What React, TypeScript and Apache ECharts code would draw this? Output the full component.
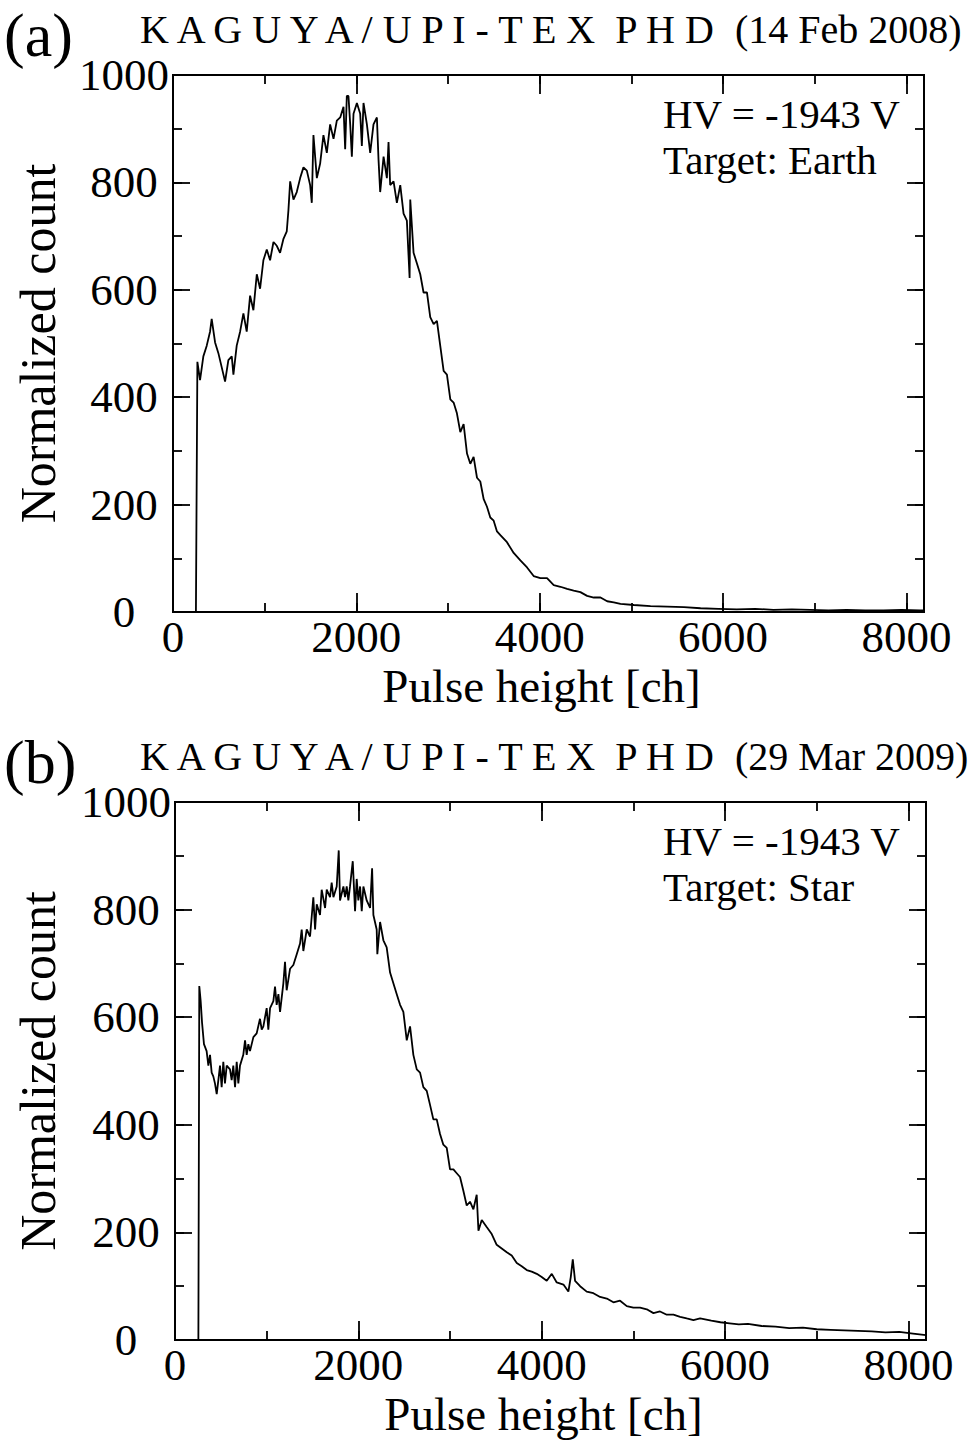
import React, { useEffect, useRef } from 'react';
import * as echarts from 'echarts';

// Panel (a): 14 Feb 2008, Target: Earth
const A_CH = [250, 266, 295, 331, 368, 404, 422, 459, 495, 531, 568, 604, 641, 659, 695, 732, 768, 804, 841, 877, 914, 950, 986, 1023, 1059, 1096, 1132, 1168, 1205, 1241, 1259, 1278, 1314, 1350, 1387, 1423, 1460, 1496, 1514, 1532, 1569, 1605, 1641, 1678, 1714, 1751, 1787, 1824, 1860, 1878, 1896, 1914, 1933, 1951, 1969, 2006, 2042, 2060, 2078, 2115, 2151, 2187, 2224, 2242, 2260, 2297, 2333, 2351, 2369, 2406, 2442, 2479, 2515, 2551, 2581, 2588, 2624, 2661, 2697, 2733, 2770, 2806, 2843, 2879, 2915, 2952, 2988, 3025, 3061, 3097, 3134, 3170, 3207, 3243, 3279, 3316, 3352, 3389, 3425, 3461, 3498, 3534, 3571, 3643, 3716, 3789, 3862, 3934, 4007, 4080, 4153, 4226, 4299, 4371, 4444, 4517, 4590, 4663, 4736, 4808, 4881, 5027, 5209, 5391, 5573, 5755, 5950, 6150, 6350, 6550, 6750, 6950, 7150, 7350, 7550, 7750, 7950, 8150, 8192];
const A_VAL = [0, 466, 432, 476, 496, 522, 546, 502, 482, 456, 429, 469, 476, 442, 496, 522, 556, 522, 589, 562, 629, 602, 655, 675, 655, 689, 682, 669, 695, 709, 748, 802, 768, 782, 808, 828, 822, 795, 762, 888, 808, 835, 888, 855, 908, 881, 915, 921, 941, 862, 961, 961, 908, 848, 928, 948, 928, 868, 948, 908, 855, 908, 921, 842, 782, 848, 808, 875, 795, 802, 762, 795, 742, 729, 622, 768, 669, 649, 629, 595, 595, 549, 536, 542, 496, 449, 442, 396, 390, 370, 335, 350, 295, 276, 289, 250, 243, 210, 196, 176, 170, 150, 143, 130, 110, 96, 83, 67, 63, 63, 50, 47, 43, 40, 37, 30, 27, 27, 20, 18, 15, 13, 11, 10, 9, 7, 6, 5, 6, 4, 5, 4, 3, 4, 3, 3, 4, 3, 3];

// Panel (b): 29 Mar 2009, Target: Star
const B_CH = [255, 265, 280, 295, 316, 345, 364, 382, 400, 418, 436, 455, 473, 491, 509, 527, 545, 564, 600, 618, 636, 655, 673, 691, 709, 745, 764, 782, 800, 818, 855, 891, 927, 946, 964, 1000, 1018, 1037, 1073, 1091, 1109, 1128, 1146, 1182, 1200, 1218, 1255, 1291, 1328, 1364, 1382, 1400, 1437, 1473, 1509, 1528, 1546, 1582, 1600, 1637, 1655, 1691, 1709, 1728, 1764, 1786, 1800, 1837, 1855, 1873, 1891, 1909, 1939, 1964, 1982, 2000, 2019, 2037, 2055, 2091, 2128, 2150, 2164, 2200, 2207, 2237, 2273, 2309, 2346, 2382, 2418, 2455, 2491, 2528, 2564, 2600, 2637, 2673, 2709, 2746, 2782, 2818, 2855, 2891, 2927, 2964, 3000, 3037, 3073, 3109, 3146, 3182, 3218, 3255, 3291, 3310, 3346, 3400, 3455, 3509, 3564, 3619, 3673, 3728, 3782, 3837, 3891, 3946, 4000, 4055, 4110, 4164, 4237, 4291, 4317, 4339, 4364, 4419, 4491, 4564, 4637, 4710, 4782, 4855, 4928, 5000, 5073, 5146, 5219, 5291, 5364, 5437, 5510, 5582, 5655, 5728, 5850, 5950, 6050, 6150, 6250, 6400, 6550, 6700, 6850, 7000, 7150, 7300, 7450, 7600, 7750, 7900, 8050, 8192];
const B_VAL = [0, 658, 630, 590, 550, 537, 510, 530, 497, 490, 477, 457, 483, 510, 470, 517, 477, 510, 503, 483, 510, 470, 517, 477, 510, 530, 557, 530, 550, 537, 563, 570, 597, 577, 583, 617, 577, 617, 630, 657, 623, 643, 610, 663, 703, 650, 690, 697, 717, 737, 763, 723, 763, 750, 823, 763, 810, 790, 837, 803, 837, 823, 850, 823, 843, 910, 817, 843, 823, 843, 817, 843, 890, 797, 857, 817, 843, 797, 843, 817, 803, 877, 790, 763, 717, 777, 743, 730, 683, 663, 643, 623, 610, 557, 583, 530, 503, 497, 470, 463, 437, 410, 410, 383, 363, 357, 317, 317, 310, 303, 277, 250, 257, 243, 270, 203, 223, 210, 197, 177, 170, 163, 157, 143, 137, 130, 127, 123, 117, 110, 123, 107, 103, 90, 117, 150, 110, 100, 90, 87, 80, 77, 70, 73, 63, 60, 60, 57, 50, 53, 47, 47, 43, 40, 37, 40, 36, 33, 31, 29, 30, 26, 25, 22, 23, 20, 19, 18, 17, 16, 14, 15, 12, 9];

const X_MAX = 8192;
const X_MAJOR = 2000;
const X_MINOR = 1000;
const Y_MAX = 1000;
const Y_MAJOR = 200;
const Y_MINOR = 100;

const PANELS = [
  { tag: '(a)', title: 'K A G U Y A / U P I - T E X  P H D', date: '(14 Feb 2008)', hv: 'HV = -1943 V', target: 'Target: Earth' },
  { tag: '(b)', title: 'K A G U Y A / U P I - T E X  P H D', date: '(29 Mar 2009)', hv: 'HV = -1943 V', target: 'Target: Star' },
];

const FONT = '"Liberation Serif", "Times New Roman", serif';

// layout (pixels)
const GRIDS = [
  { left: 173, top: 75, width: 751, height: 537 },
  { left: 175, top: 802, width: 751, height: 538 },
];

export default function App() {
  const ref = useRef<HTMLDivElement>(null);
  useEffect(() => {
    if (!ref.current) return;
    const chart = echarts.init(ref.current, undefined, { renderer: 'svg' });
    const axisLine = { show: true, onZero: false, lineStyle: { color: '#000', width: 2 } };
    const xAxes: any[] = [];
    const yAxes: any[] = [];
    GRIDS.forEach((_, gi) => {
      const mk = (pos: string, interval: number, len: number, labels: boolean) => ({
        type: 'value', gridIndex: gi, position: pos, min: 0, max: X_MAX, interval,
        axisLine, splitLine: { show: false },
        axisTick: { show: true, inside: true, length: len, lineStyle: { color: '#000', width: 1.8 } },
        axisLabel: labels ? {
          show: true, fontSize: 45, fontFamily: FONT, color: '#000', margin: 2,
          formatter: (v: number) => (v % X_MAJOR === 0 ? String(v) : ''),
        } : { show: false },
      });
      xAxes.push(mk('bottom', X_MAJOR, 19, true));
      xAxes.push(mk('bottom', X_MINOR, 9, false));
      xAxes.push(mk('top', X_MAJOR, 19, false));
      xAxes.push(mk('top', X_MINOR, 9, false));
      const mky = (pos: string, interval: number, len: number, labels: boolean) => ({
        type: 'value', gridIndex: gi, position: pos, min: 0, max: Y_MAX, interval,
        axisLine, splitLine: { show: false },
        axisTick: { show: true, inside: true, length: len, lineStyle: { color: '#000', width: 1.8 } },
        axisLabel: labels ? {
          show: true, fontSize: 45, fontFamily: FONT, color: '#000', margin: 49, align: 'center',
          formatter: (v: number) => String(v),
        } : { show: false },
      });
      yAxes.push(mky('left', Y_MAJOR, 17, true));
      yAxes.push(mky('left', Y_MINOR, 9, false));
      yAxes.push(mky('right', Y_MAJOR, 17, false));
      yAxes.push(mky('right', Y_MINOR, 9, false));
    });

    const txt = (x: number, y: number, text: string, size: number, align = 'left', rot = 0) => ({
      type: 'text', x, y, rotation: rot,
      style: { text, fontSize: size, fontFamily: FONT, fill: '#000', align, verticalAlign: 'middle' },
    });
    const graphics: any[] = [];
    PANELS.forEach((p, i) => {
      const g = GRIDS[i];
      const dy = g.top - 75;
      graphics.push(txt(4, 35 + dy, p.tag, 62));
      graphics.push(txt(140, 29 + dy, p.title, 40));
      graphics.push(txt(735, 29 + dy, p.date, 40));
      graphics.push(txt(663, 114 + dy, p.hv, 41));
      graphics.push(txt(663, 160 + dy, p.target, 41));
      graphics.push(txt(38, g.top + g.height / 2, 'Normalized count', 50, 'center', Math.PI / 2));
      graphics.push(txt(g.left + g.width / 2 - 7, g.top + g.height + 74, 'Pulse height [ch]', 47, 'center'));
    });

    chart.setOption({
      animation: false,
      backgroundColor: '#fff',
      grid: GRIDS.map((g) => ({ ...g, containLabel: false })),
      xAxis: xAxes,
      yAxis: yAxes,
      graphic: graphics,
      series: [
        {
          type: 'line', xAxisIndex: 0, yAxisIndex: 0, showSymbol: false, symbol: 'none',
          lineStyle: { color: '#000', width: 1.8 },
          data: A_CH.map((c, i) => [c, A_VAL[i]]),
        },
        {
          type: 'line', xAxisIndex: 4, yAxisIndex: 4, showSymbol: false, symbol: 'none',
          lineStyle: { color: '#000', width: 1.8 },
          data: B_CH.map((c, i) => [c, B_VAL[i]]),
        },
      ],
    });
    return () => chart.dispose();
  }, []);
  return <div ref={ref} style={{ position: 'absolute', left: 0, top: 0, width: 978, height: 1441 }} />;
}
